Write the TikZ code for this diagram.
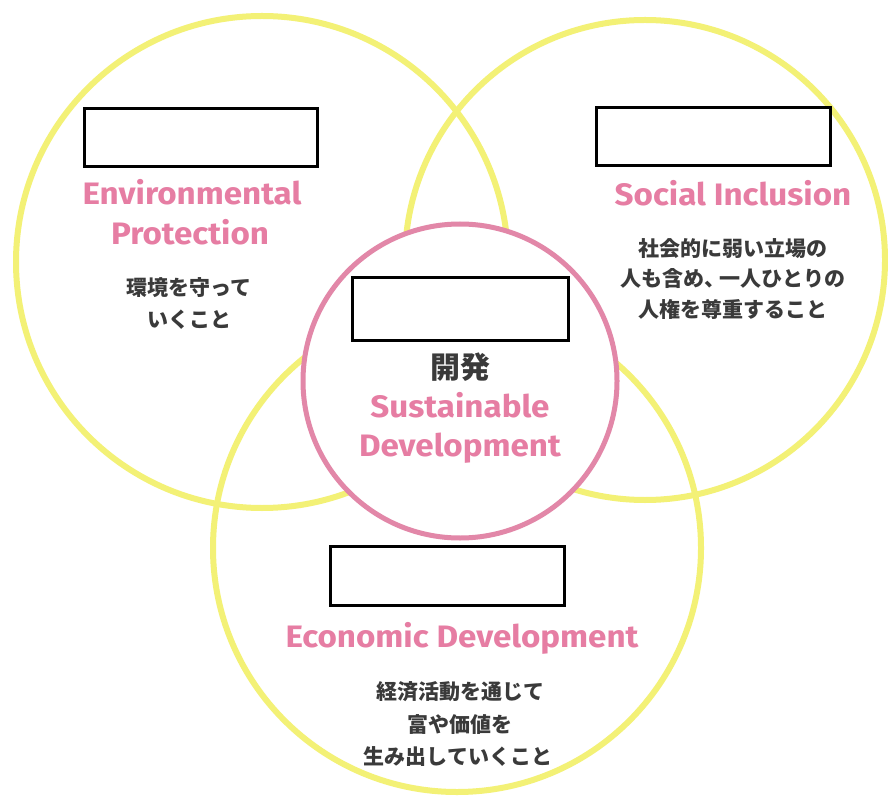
\documentclass[tikz,border=0pt]{standalone}
\usepackage{fontspec}
\setmainfont{Fira Sans}
\newfontfamily\cjk{Noto Sans CJK JP}
\definecolor{ringyellow}{RGB}{243,241,118}
\definecolor{ringpink}{RGB}{226,135,168}
\definecolor{pinktext}{RGB}{230,125,163}
\definecolor{darktext}{RGB}{58,58,58}
\newcommand{\wtext}[1]{\scalebox{1.07}[1]{#1}}
\tikzset{
  yring/.style={circle, draw=ringyellow, line width=6pt, minimum size=#1, inner sep=0pt},
  pring/.style={circle, draw=ringpink, fill=white, line width=5pt, minimum size=#1, inner sep=0pt},
  hidebox/.style={draw=black, fill=white, line width=3.2pt, inner sep=0pt},
  entitle/.style={text=pinktext, font=\fontsize{31}{31}\selectfont\bfseries, anchor=base, inner sep=0pt},
  jptext/.style={text=darktext, font=\cjk\bfseries\fontsize{21}{21}\selectfont, anchor=base, inner sep=0pt},
}
\begin{document}
\begin{tikzpicture}[x=1pt,y=-1pt]
\useasboundingbox (0,0) rectangle (888,799);
\fill[white] (0,0) rectangle (888,799);
% circles
\node[yring=492pt] (env) at (262,262) {};
\node[yring=480pt] (soc) at (645,260) {};
\node[yring=488pt] (eco) at (457,548) {};
\node[pring=314pt] (sus) at (460,381) {};
% hidden boxes
\node[hidebox, minimum width=233pt, minimum height=58pt] (box1) at (201,137.5) {};
\node[hidebox, minimum width=234pt, minimum height=58pt] (box2) at (713.5,136.5) {};
\node[hidebox, minimum width=216pt, minimum height=63pt] (box3) at (460.5,309) {};
\node[hidebox, minimum width=234pt, minimum height=59pt] (box4) at (447.5,576) {};
% environmental
\node[entitle] (env1) at (192,205) {\wtext{Environmental}};
\node[entitle] (env2) at (190,245) {\wtext{Protection}};
\node[jptext] (envj1) at (189,296) {環境を守って};
\node[jptext] (envj2) at (189,327) {いくこと};
% social
\node[entitle] (soc1) at (733,206) {\wtext{Social Inclusion}};
\node[jptext] (socj1) at (733,257) {社会的に弱い立場の};
\node[jptext] (socj2) at (733,287) {人も含め、\kern-6pt一人ひとりの};
\node[jptext] (socj3) at (733,317) {人権を尊重すること};
% sustainable
\node[jptext, font=\cjk\bfseries\fontsize{30}{30}\selectfont] (susj) at (460,378) {開発};
\node[entitle] (sus1) at (460,417) {\wtext{Sustainable}};
\node[entitle] (sus2) at (460,456) {\wtext{Development}};
% economic
\node[entitle] (eco1) at (462,647) {\wtext{Economic Development}};
\node[jptext] (ecoj1) at (460,699) {経済活動を通じて};
\node[jptext] (ecoj2) at (460,732) {富や価値を};
\node[jptext] (ecoj3) at (458,764) {生み出していくこと};
\end{tikzpicture}
\end{document}
